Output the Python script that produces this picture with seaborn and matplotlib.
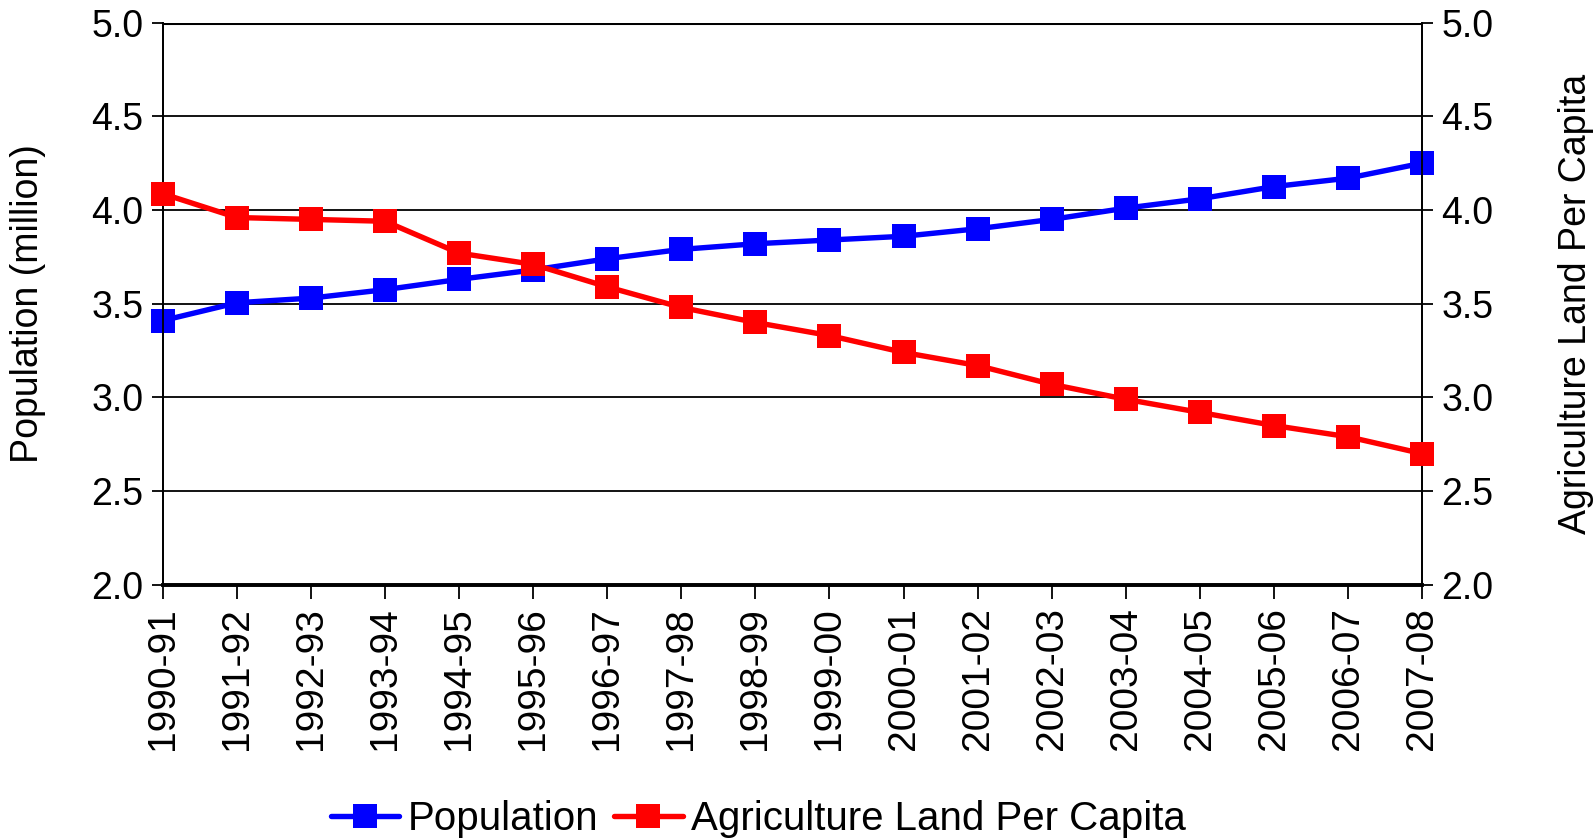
import matplotlib
matplotlib.use("Agg")
import matplotlib.pyplot as plt
import seaborn as sns
import pandas as pd
from matplotlib.lines import Line2D

# Fiscal years
years = ["1990-91", "1991-92", "1992-93", "1993-94", "1994-95", "1995-96",
         "1996-97", "1997-98", "1998-99", "1999-00", "2000-01", "2001-02",
         "2002-03", "2003-04", "2004-05", "2005-06", "2006-07", "2007-08"]

# Population (million)
population = [3.41, 3.505, 3.53, 3.575, 3.63, 3.68, 3.74, 3.79, 3.82,
              3.84, 3.86, 3.90, 3.95, 4.01, 4.06, 4.125, 4.17, 4.25]

# Agriculture land per capita
agri_land = [4.087, 3.96, 3.95, 3.94, 3.77, 3.71, 3.59, 3.48, 3.40,
             3.33, 3.24, 3.17, 3.07, 2.99, 2.92, 2.85, 2.79, 2.70]

y_ticks = [2.0, 2.5, 3.0, 3.5, 4.0, 4.5, 5.0]

sns.set_theme(style="white")
plt.rcParams["font.family"] = ["Liberation Sans", "DejaVu Sans"]
plt.rcParams["text.color"] = "black"
plt.rcParams["axes.labelcolor"] = "black"
plt.rcParams["xtick.color"] = "black"
plt.rcParams["ytick.color"] = "black"

df = pd.DataFrame({"idx": range(len(years)), "year": years,
                   "Population": population,
                   "Agriculture Land Per Capita": agri_land})

fig = plt.figure(figsize=(15.96, 8.39), dpi=100)
ax = fig.add_axes([0.102, 0.303, 0.789, 0.670])
ax2 = ax.twinx()

BLUE = "#0000FF"
RED = "#FF0000"
MS = 17
LW = 3.9

sns.lineplot(data=df, x="idx", y="Population", ax=ax, color=BLUE,
             marker="s", markersize=MS, markeredgewidth=0, linewidth=LW,
             zorder=3, clip_on=False)
sns.lineplot(data=df, x="idx", y="Agriculture Land Per Capita", ax=ax2,
             color=RED, marker="s", markersize=MS, markeredgewidth=0,
             linewidth=LW, zorder=3, clip_on=False)

for a in (ax, ax2):
    a.set_ylim(2.0, 5.0)
    a.set_yticks(y_ticks)
    a.set_yticklabels([f"{v:.1f}" for v in y_ticks])
    for s in a.spines.values():
        s.set_color("black")
    a.spines["top"].set_visible(False)
    a.spines["left"].set_linewidth(1.3)
    a.spines["right"].set_linewidth(1.3)
    a.spines["bottom"].set_linewidth(2.6)

ax.set_xlim(0, len(years) - 1)

# Horizontal gridlines, drawn behind the series
for v in y_ticks[1:]:
    ax.axhline(v, color="black", linewidth=2.2 if v == 5.0 else 1.3, zorder=1)

ax.set_xticks(range(len(years)))
ax.set_xticklabels(years, rotation=90, fontsize=28)
ax.set_xlabel("")
ax2.set_xlabel("")

ax.tick_params(axis="y", direction="out", length=8, width=1.3,
               labelsize=27, pad=6, colors="black", left=True)
ax.tick_params(axis="x", direction="out", length=10, width=1.3,
               pad=6, colors="black", bottom=True)
ax2.tick_params(axis="y", direction="out", length=8, width=1.3,
                labelsize=27, pad=6, colors="black", right=True)

ax.set_ylabel("Population (million)", fontsize=27, color="black")
ax.yaxis.set_label_coords(-0.093, 0.5)
ax2.set_ylabel("Agriculture Land Per Capita", fontsize=27, rotation=90,
               color="black")
ax2.yaxis.set_label_coords(1.108, 0.5)

if ax.get_legend():
    ax.get_legend().remove()
if ax2.get_legend():
    ax2.get_legend().remove()

handles = [
    Line2D([], [], color=BLUE, marker="s", markersize=MS, markeredgewidth=0,
           linewidth=LW),
    Line2D([], [], color=RED, marker="s", markersize=MS, markeredgewidth=0,
           linewidth=LW),
]
leg = fig.legend(handles, ["Population", "Agriculture Land Per Capita"],
                 loc="center", bbox_to_anchor=(0.475, 0.024), ncol=2,
                 frameon=False, fontsize=29, handlelength=1.7,
                 handletextpad=0.2, columnspacing=0.4)
for t in leg.get_texts():
    t.set_color("black")

fig.savefig("out.png", dpi=100)
